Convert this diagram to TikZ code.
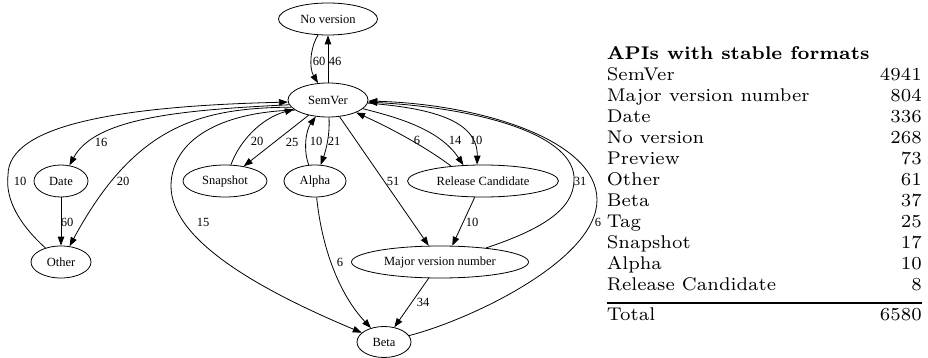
\documentclass[tikz,border=0pt]{standalone}
\usepackage{fontspec}
\usepackage{booktabs}
\newfontfamily\gvfont{Liberation Serif}
\newfontfamily\tblfont{lmroman7}[Extension=.otf, UprightFont=*-regular, BoldFont=*-bold]
\usetikzlibrary{shapes.geometric, arrows.meta}
\setlength\aboverulesep{6pt}
\setlength\belowrulesep{2pt}
\setlength\lightrulewidth{1pt}
\begin{document}
\begin{tikzpicture}[x=1pt,y=-1pt,
  gv/.style={draw, ellipse, line width=0.8pt, inner sep=0pt, font=\gvfont\fontsize{12.5}{14}\selectfont},
  e/.style={line width=0.8pt, -{Triangle[length=9pt,width=6.5pt]}},
  lbl/.style={font=\gvfont\fontsize{12.5}{14}\selectfont, inner sep=0pt}]
\useasboundingbox (0,0) rectangle (928,358);
% nodes
\node[gv, minimum width=99pt, minimum height=32pt] (nover) at (328,19) {No version};
\node[gv, minimum width=80pt, minimum height=34pt] (semver) at (328,100) {SemVer};
\node[gv, minimum width=54pt, minimum height=32pt] (date) at (61,181) {Date};
\node[gv, minimum width=60pt, minimum height=32pt] (other) at (61,262) {Other};
\node[gv, minimum width=84pt, minimum height=32pt] (snap) at (225,181) {Snapshot};
\node[gv, minimum width=62pt, minimum height=32pt] (alpha) at (315,181) {Alpha};
\node[gv, minimum width=151pt, minimum height=32pt] (rc) at (483,181) {Release Candidate};
\node[gv, minimum width=177pt, minimum height=32pt] (mvn) at (440,262) {Major version number};
\node[gv, minimum width=54pt, minimum height=31pt] (beta) at (384,342) {Beta};
% edges
\draw[e] (nover) .. controls (310,48) and (309,68) .. (semver);
\node[lbl] (l1) at (319,61) {60};
\draw[e] (semver) -- (nover);
\node[lbl] (l2) at (335,61) {46};
\draw[e] (semver.187) .. controls (180,110) and (95,118) .. (date);
\node[lbl] (l3) at (101,142) {16};
\draw[e] (other) .. controls (20,225) and (5,200) .. (8,175) .. controls (8,125) and (120,106) .. (semver.183);
\node[lbl] (l4) at (20,181) {10};
\draw[e] (semver.191) .. controls (200,108) and (135,125) .. (other);
\node[lbl] (l5) at (123,181) {20};
\draw[e] (date) -- (other);
\node[lbl] (l6) at (67,222) {60};
\draw[e] (snap) .. controls (240,140) and (262,118) .. (semver);
\node[lbl] (l7) at (257,141) {20};
\draw[e] (semver) -- (snap);
\node[lbl] (l8) at (292,142) {25};
\draw[e] (alpha) .. controls (303,150) and (306,130) .. (semver);
\node[lbl] (l9) at (316,141) {10};
\draw[e] (semver) .. controls (330,135) and (326,150) .. (alpha);
\node[lbl] (l10) at (334,141) {21};
\draw[e] (semver) -- (mvn);
\node[lbl] (l11) at (393,181) {51};
\draw[e] (rc.155) .. controls (430,150) and (395,130) .. (semver);
\node[lbl] (l12) at (417,140) {6};
\draw[e] (semver) .. controls (400,118) and (440,130) .. (rc.141);
\node[lbl] (l13) at (455,140) {14};
\draw[e] (semver) .. controls (430,108) and (478,120) .. (rc.110);
\node[lbl] (l14) at (476,140) {10};
\draw[e] (rc.243) -- (mvn.53);
\node[lbl] (l15) at (472,222) {10};
\draw[e] (mvn.17) .. controls (540,230) and (574,210) .. (574,180) .. controls (576,135) and (480,108) .. (semver);
\node[lbl] (l16) at (580,181) {31};
\draw[e] (beta) .. controls (470,320) and (597,260) .. (597,200) .. controls (597,140) and (480,104) .. (semver);
\node[lbl] (l17) at (598,222) {6};
\draw[e] (semver.197) .. controls (220,112) and (172,140) .. (171,185) .. controls (170,240) and (260,290) .. (beta);
\node[lbl] (l18) at (203,222) {15};
\draw[e] (alpha) .. controls (322,250) and (340,295) .. (beta);
\node[lbl] (l19) at (340,262) {6};
\draw[e] (mvn) -- (beta);
\node[lbl] (l20) at (423,302) {34};
% table
\node[anchor=north east, inner sep=0pt, font=\tblfont\fontsize{18.4}{21}\selectfont] (tbl) at (922,44.3) {%
\begin{tabular*}{315pt}{@{}l@{\extracolsep{\fill}}r@{}}
\textbf{APIs with stable formats} & \\
SemVer & 4941\\
Major version number & 804\\
Date & 336\\
No version & 268\\
Preview & 73\\
Other & 61\\
Beta & 37\\
Tag & 25\\
Snapshot & 17\\
Alpha & 10\\
Release Candidate & 8\\
\midrule
Total & 6580
\end{tabular*}};
\end{tikzpicture}
\end{document}
